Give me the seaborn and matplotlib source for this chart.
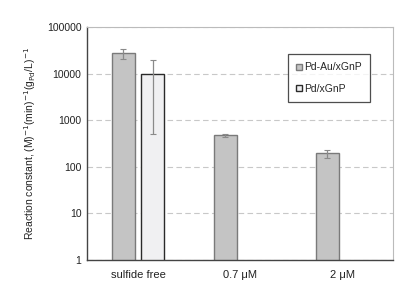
import numpy as np
import pandas as pd
import matplotlib
matplotlib.use("Agg")
import matplotlib.pyplot as plt
import seaborn as sns

categories = ["sulfide free", "0.7 \u03bcM", "2 \u03bcM"]
series = ["Pd-Au/xGnP", "Pd/xGnP"]
pdau_values = [27000, 470, 195]
pdau_errors = [6500, 25, 37]
pd_values = [10000, np.nan, np.nan]
pd_errors = [9500, np.nan, np.nan]
ytick_values = [1, 10, 100, 1000, 10000, 100000]
ytick_labels = ["1", "10", "100", "1000", "10000", "100000"]

sns.set_style("white")
plt.rcParams['font.family'] = ['Liberation Sans', 'DejaVu Sans']

df = pd.DataFrame({
    "condition": categories * 2,
    "catalyst": [series[0]] * 3 + [series[1]] * 3,
    "k": pdau_values + pd_values,
})

fig = plt.figure(figsize=(4.12, 2.93), dpi=100)
ax = fig.add_axes([87/412, 1-260/293, 306/412, 233/293])

palette = {series[0]: "#c4c4c4", series[1]: "#f0f0f2"}
sns.barplot(data=df, x="condition", y="k", hue="catalyst", order=categories,
            hue_order=series, palette=palette, width=0.57, gap=0.2,
            errorbar=None, ax=ax, legend=True)

ax.set_yscale("log")
ax.set_ylim(1, 100000)
ax.set_xlim(-0.5, 2.5)

edge = {series[0]: "#7a7a7a", series[1]: "#2a2a2a"}
errs_all = {series[0]: pdau_errors, series[1]: pd_errors}
vals_all = {series[0]: pdau_values, series[1]: pd_values}
for s, container in zip(series, ax.containers):
    for i, bar in enumerate(container):
        h = bar.get_height()
        if not np.isfinite(h) or h <= 0:
            continue
        bar.set_edgecolor(edge[s])
        bar.set_linewidth(1.0)
        xc = bar.get_x() + bar.get_width() / 2
        ax.errorbar(xc, vals_all[s][i], yerr=errs_all[s][i], fmt="none",
                    ecolor="#8a8a8a", elinewidth=0.9, capsize=2, capthick=0.8, zorder=5)

ax.set_yticks(ytick_values)
ax.set_yticklabels(ytick_labels)
ax.yaxis.set_minor_locator(matplotlib.ticker.NullLocator())
ax.tick_params(axis="y", labelsize=7.5, length=0, pad=4, colors="#222222")
ax.tick_params(axis="x", labelsize=8, length=0, pad=7, colors="#222222")
ax.grid(axis="y", which="major", linestyle=(0, (5, 3)), color="#c8c8c8", linewidth=0.8)
ax.set_axisbelow(True)

ax.set_xlabel("")
ax.set_ylabel(r"Reaction constant, (M)$^{-1}$(min)$^{-1}$(g$_{\rm Pd}$/L)$^{-1}$",
              fontsize=7.5, color="#222222", labelpad=6)

for side in ["left", "bottom"]:
    ax.spines[side].set_color("#444444")
    ax.spines[side].set_linewidth(1.0)
for side in ["top", "right"]:
    ax.spines[side].set_visible(True)
    ax.spines[side].set_color("#bbbbbb")
    ax.spines[side].set_linewidth(0.8)

handles, labels = ax.get_legend_handles_labels()
for h, s in zip(handles, labels):
    h.set_edgecolor(edge[s])
leg = ax.legend(handles, labels, loc="upper left", bbox_to_anchor=(0.657, 0.884),
                borderaxespad=0, frameon=True, fancybox=False, fontsize=7.5,
                handlelength=0.55, handleheight=0.55, handletextpad=0.15,
                labelspacing=1.1, borderpad=0.8)
leg.get_frame().set_edgecolor("#222222")
leg.get_frame().set_linewidth(0.9)

fig.savefig("out.png", dpi=100)
